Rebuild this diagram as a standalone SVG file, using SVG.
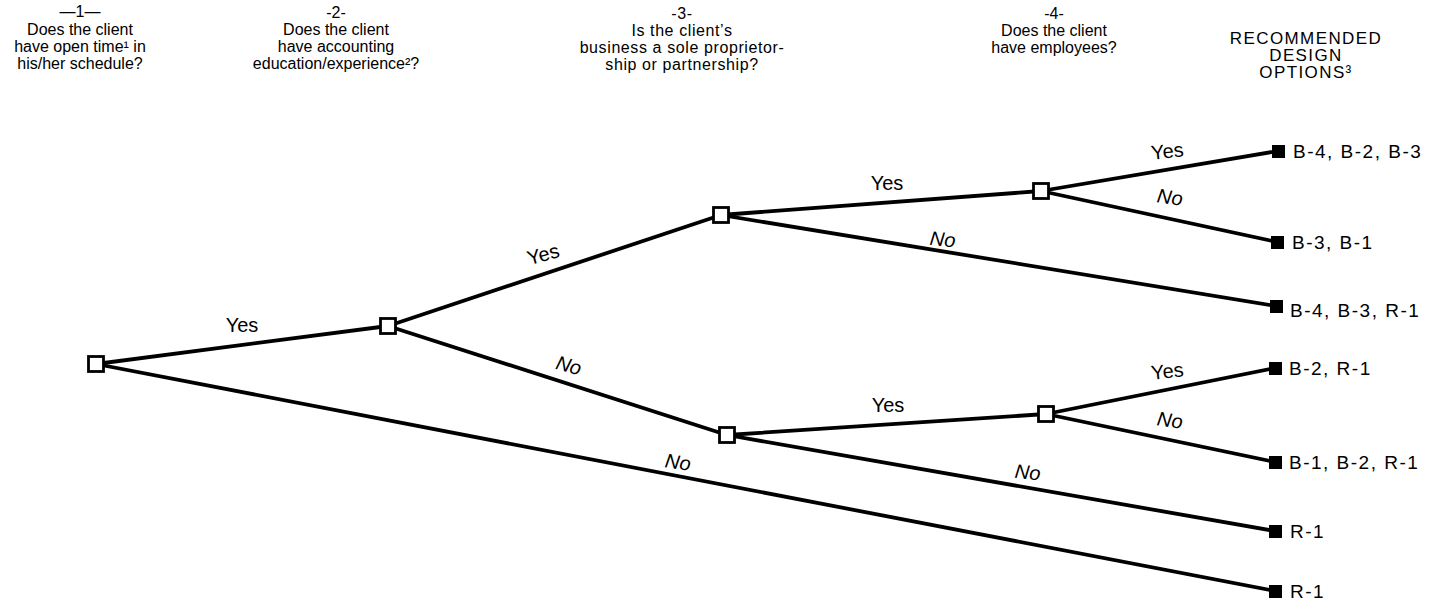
<svg xmlns="http://www.w3.org/2000/svg" width="1440" height="607" viewBox="0 0 1440 607">
<style>
text{font-family:"Liberation Sans",Arial,sans-serif;fill:#000}
.h{font-size:16px;text-anchor:middle}
.h3{letter-spacing:0.6px}
.hc{font-size:17px;letter-spacing:1.4px}
.e{font-size:20px;text-anchor:middle}
.n{font-style:italic}
.l{font-size:19px;letter-spacing:1.5px}
.c line{stroke:#000;stroke-width:3.8;stroke-linecap:round}
.o{fill:#fff;stroke:#000;stroke-width:2.8}
.f{fill:#000}
</style>
<rect width="1440" height="607" fill="#fff"/>
<g id="headers">
<text class="h" x="80" y="17">—1—</text>
<text class="h" x="80" y="35">Does the client</text>
<text class="h" x="80" y="52">have open time¹ in</text>
<text class="h" x="80" y="69">his/her schedule?</text>
<text class="h" x="336" y="18">-2-</text>
<text class="h" x="336" y="35">Does the client</text>
<text class="h" x="336" y="52">have accounting</text>
<text class="h" x="336" y="69">education/experience²?</text>
<text class="h h3" x="682" y="19">-3-</text>
<text class="h h3" x="682" y="36">Is the client’s</text>
<text class="h h3" x="682" y="53">business a sole proprietor-</text>
<text class="h h3" x="682" y="70">ship or partnership?</text>
<text class="h" x="1054" y="19">-4-</text>
<text class="h" x="1054" y="36">Does the client</text>
<text class="h" x="1054" y="53">have employees?</text>
<text class="h hc" x="1306" y="44">RECOMMENDED</text>
<text class="h hc" x="1306" y="61">DESIGN</text>
<text class="h hc" x="1306" y="78">OPTIONS³</text>
</g>
<g id="connectors" class="c">
<line x1="96" y1="364" x2="388" y2="326"/>
<line x1="96" y1="364" x2="1275" y2="591"/>
<line x1="388" y1="326" x2="721" y2="215"/>
<line x1="388" y1="326" x2="727" y2="435"/>
<line x1="721" y1="215" x2="1041" y2="191"/>
<line x1="721" y1="215" x2="1276" y2="306"/>
<line x1="1041" y1="191" x2="1278" y2="151"/>
<line x1="1041" y1="191" x2="1277" y2="242"/>
<line x1="727" y1="435" x2="1046" y2="414"/>
<line x1="727" y1="435" x2="1275" y2="531"/>
<line x1="1046" y1="414" x2="1275" y2="368"/>
<line x1="1046" y1="414" x2="1275" y2="462"/>
</g>
<g id="edge-labels">
<text class="e" x="242" y="332">Yes</text>
<text class="e" transform="translate(545,261) rotate(-15)">Yes</text>
<text class="e n" transform="translate(567,372) rotate(15)">No</text>
<text class="e" x="887" y="190">Yes</text>
<text class="e n" transform="translate(942,246) rotate(6)">No</text>
<text class="e" transform="translate(1168,158) rotate(-6)">Yes</text>
<text class="e n" transform="translate(1169,204) rotate(8)">No</text>
<text class="e" x="888" y="412">Yes</text>
<text class="e n" transform="translate(1027,479) rotate(6)">No</text>
<text class="e" transform="translate(1168,378) rotate(-6)">Yes</text>
<text class="e n" transform="translate(1169,427) rotate(8)">No</text>
<text class="e n" transform="translate(677,469) rotate(8)">No</text>
</g>
<g id="n1"><rect class="o" x="88.500" y="356.500" width="15" height="15"/></g>
<g id="n2"><rect class="o" x="380.500" y="318.500" width="15" height="15"/></g>
<g id="n3a"><rect class="o" x="713.500" y="207.500" width="15" height="15"/></g>
<g id="n3b"><rect class="o" x="719.500" y="427.500" width="15" height="15"/></g>
<g id="n4a"><rect class="o" x="1033.500" y="183.500" width="15" height="15"/></g>
<g id="n4b"><rect class="o" x="1038.500" y="406.500" width="15" height="15"/></g>
<g id="leaf1"><rect class="f" x="1272" y="145" width="13" height="13"/><text class="l" x="1293" y="158">B-4, B-2, B-3</text></g>
<g id="leaf2"><rect class="f" x="1271" y="236" width="13" height="13"/><text class="l" x="1292" y="249">B-3, B-1</text></g>
<g id="leaf3"><rect class="f" x="1270" y="300" width="13" height="13"/><text class="l" x="1290" y="317">B-4, B-3, R-1</text></g>
<g id="leaf4"><rect class="f" x="1269" y="362" width="13" height="13"/><text class="l" x="1289" y="375">B-2, R-1</text></g>
<g id="leaf5"><rect class="f" x="1269" y="456" width="13" height="13"/><text class="l" x="1289" y="469">B-1, B-2, R-1</text></g>
<g id="leaf6"><rect class="f" x="1269" y="525" width="13" height="13"/><text class="l" x="1290" y="538">R-1</text></g>
<g id="leaf7"><rect class="f" x="1269" y="585" width="13" height="13"/><text class="l" x="1290" y="598">R-1</text></g>
</svg>
